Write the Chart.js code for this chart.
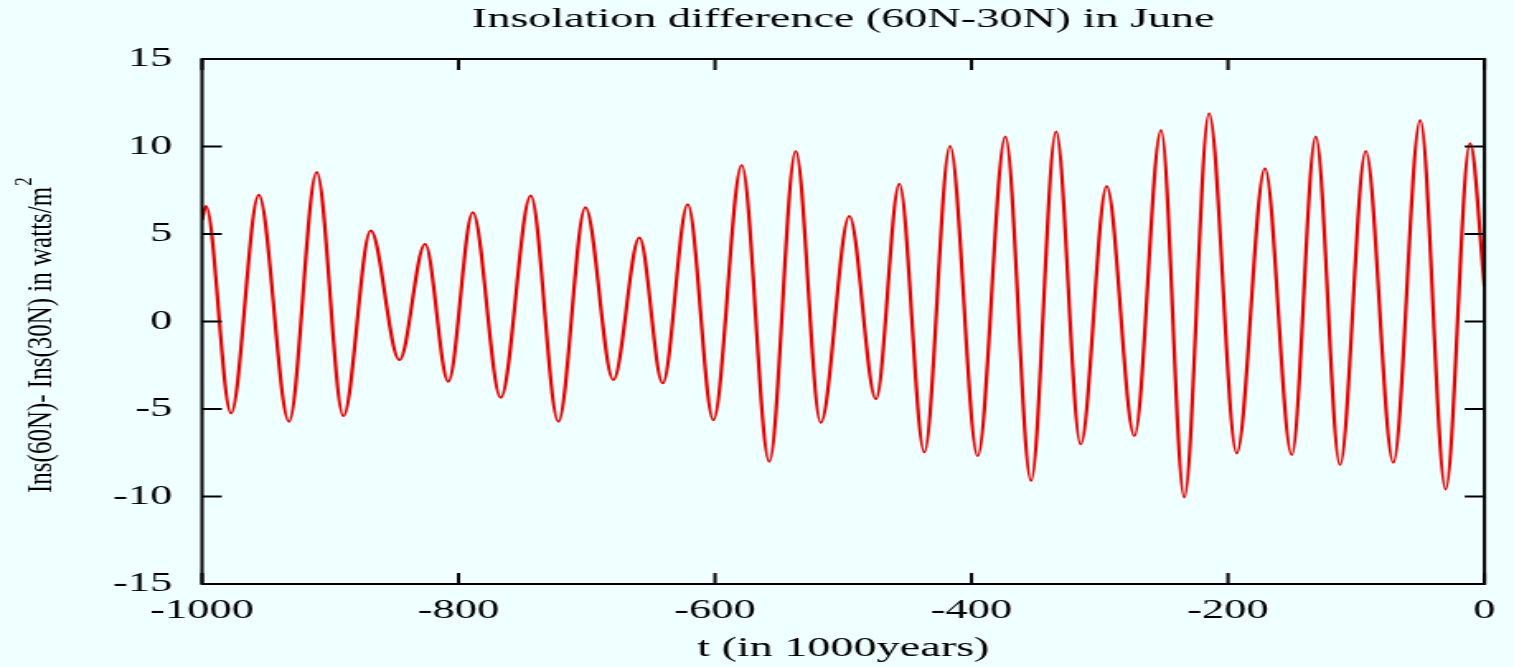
<!DOCTYPE html>
<html>
<head>
<meta charset="utf-8">
<title>Insolation difference (60N-30N) in June</title>
<script src="https://cdn.jsdelivr.net/npm/chart.js@4.4.0/dist/chart.umd.min.js"></script>
<style>
  html, body { margin: 0; padding: 0; background: #f0ffff; overflow: hidden; }
  #chart { display: block; }
</style>
</head>
<body>
<!-- canvas is drawn narrow and stretched wide, like the original picture -->
<canvas id="chart" width="918" height="667" style="width:1514px;height:667px"></canvas>
<script>
// Turning points of the curve (t in 1000 years)
const times = [
  -1000, -997, -977.4, -955.8, -932.2, -910.6, -889.8, -868.5, -846.1, -826.1,
  -808, -788.9, -767.1, -743.7, -722.2, -701.1, -679.3, -659, -640.8, -621.3,
  -601.3, -579.2, -557.7, -537.1, -517.6, -495.3, -474.5, -456.3, -436.8, -416.8,
  -395.2, -373.6, -353.6, -334.1, -314.9, -294.6, -273, -252.2, -234.1, -214.8,
  -193.2, -171.2, -150.3, -131.6, -112.7, -92.6, -71.1, -50.1, -30.3, -11.3, 0
];

// Ins(60N) - Ins(30N) in watts/m2 at those times
const values = [
  5.8, 6.6, -5.25, 7.23, -5.72, 8.54, -5.4, 5.19, -2.2, 4.43,
  -3.44, 6.24, -4.35, 7.19, -5.72, 6.52, -3.34, 4.79, -3.53, 6.7,
  -5.63, 8.94, -8.01, 9.74, -5.78, 6.03, -4.43, 7.86, -7.47, 10.03,
  -7.69, 10.56, -9.11, 10.85, -7.02, 7.74, -6.54, 10.94, -10.05, 11.9,
  -7.53, 8.75, -7.63, 10.56, -8.2, 9.74, -8.07, 11.51, -9.59, 10.18, 2.0
];

const xTicks = [-1000, -800, -600, -400, -200, 0];
const yTicks = [-15, -10, -5, 0, 5, 10, 15];

const FONT = '"Liberation Serif", "Times New Roman", serif';

// Frame with inward ticks on all four sides, plus the rotated y label
const framePlugin = {
  id: 'frame',
  afterDraw(chart) {
    const { ctx, chartArea: a, scales: { x, y } } = chart;
    ctx.save();
    ctx.strokeStyle = '#000';
    ctx.lineWidth = 2;
    ctx.beginPath();
    y.ticks.forEach(t => {
      const py = y.getPixelForValue(t.value);
      ctx.moveTo(a.left, py); ctx.lineTo(a.left + 12, py);
      ctx.moveTo(a.right, py); ctx.lineTo(a.right - 12, py);
    });
    x.ticks.forEach(t => {
      const px = x.getPixelForValue(t.value);
      ctx.moveTo(px, a.bottom); ctx.lineTo(px, a.bottom - 11);
      ctx.moveTo(px, a.top); ctx.lineTo(px, a.top + 11);
    });
    ctx.stroke();
    ctx.strokeRect(a.left, a.top, a.right - a.left, a.bottom - a.top);

    // y label: squeeze it so the canvas stretch doesn't fatten it too much
    ctx.translate(25.5, 493);
    ctx.rotate(-Math.PI / 2);
    ctx.scale(1, 0.8);
    ctx.fillStyle = '#000';
    ctx.textAlign = 'left';
    ctx.textBaseline = 'middle';
    ctx.font = '25px ' + FONT;
    const label = 'Ins(60N)- Ins(30N) in watts/m';
    ctx.fillText(label, 0, 0);
    const w = ctx.measureText(label).width;
    ctx.font = '17px ' + FONT;
    ctx.fillText('2', w + 1, -12);
    ctx.restore();
  }
};

const ctx = document.getElementById('chart').getContext('2d');
new Chart(ctx, {
  type: 'line',
  data: {
    datasets: [{
      data: times.map((t, i) => ({ x: t, y: values[i] })),
      borderColor: 'rgb(228, 0, 0)',
      borderWidth: 2.2,
      pointRadius: 0,
      fill: false,
      cubicInterpolationMode: 'monotone'
    }]
  },
  options: {
    responsive: false,
    animation: false,
    devicePixelRatio: 1,
    layout: { padding: { top: 0, right: 17.9, bottom: 0, left: 0 } },
    scales: {
      x: {
        type: 'linear',
        min: -1000,
        max: 0,
        afterBuildTicks: (scale) => { scale.ticks = xTicks.map(v => ({ value: v })); },
        afterFit: (scale) => { scale.height = 83; },
        grid: { display: false, drawTicks: false },
        border: { display: false },
        ticks: {
          padding: 10.8,
          color: '#000',
          font: { family: FONT, size: 27 },
          maxRotation: 0,
          callback: (v) => String(v)
        },
        title: {
          display: true,
          text: 't (in 1000years)',
          color: '#000',
          font: { family: FONT, size: 28 },
          padding: { top: 0, bottom: 1.2 }
        }
      },
      y: {
        min: -15,
        max: 15,
        afterBuildTicks: (scale) => { scale.ticks = yTicks.map(v => ({ value: v })); },
        afterFit: (scale) => { scale.width = 122.5; },
        grid: { display: false, drawTicks: false },
        border: { display: false },
        ticks: {
          padding: 18,
          color: '#000',
          font: { family: FONT, size: 27 },
          callback: (v) => String(v)
        }
      }
    },
    plugins: {
      legend: { display: false },
      tooltip: { enabled: false },
      title: {
        display: true,
        fullSize: false,
        text: 'Insolation difference (60N-30N) in June',
        color: '#000',
        font: { family: FONT, size: 28, weight: 'normal' },
        padding: { top: 3, bottom: 22.4 }
      }
    }
  },
  plugins: [framePlugin]
});
</script>
</body>
</html>
